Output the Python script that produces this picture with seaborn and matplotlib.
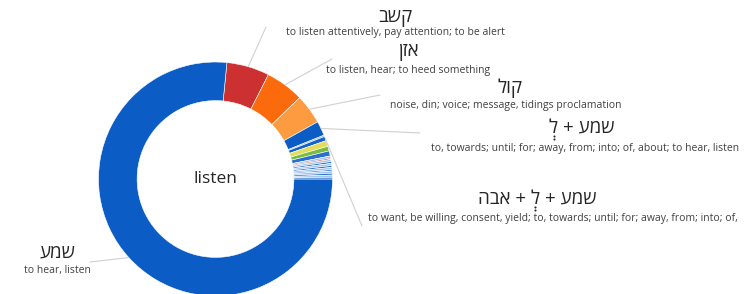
import unicodedata
import numpy as np
import matplotlib.pyplot as plt
import seaborn as sns
from matplotlib.lines import Line2D

# share of each rendering of "listen", clockwise from the red slice (percent)
shares = [5.9, 5.3, 4.1, 2.0, 0.2, 0.6, 0.8, 0.65, 0.7, 0.3, 0.17,
          0.3, 0.25, 0.3, 0.25, 0.3, 0.2, 0.3, 0.25, 0.3, 0.25, 76.4]

# labelled slices (Hebrew written in reading order, word by word)
terms = ["קשב", "אזן", "קול", "לְ + שמע", "אבה + לְ + שמע", "שמע"]
glosses = [
    "to listen attentively, pay attention; to be alert",
    "to listen, hear; to heed something",
    "noise, din; voice; message, tidings proclamation",
    "to, towards; until; for; away, from; into; of, about; to hear, listen",
    "to want, be willing, consent, yield; to, towards; until; for; away, from; into; of,",
    "to hear, listen",
]
term_slice = [0, 1, 2, 3, 5, 21]
center_word = "listen"

# styling
BLUE, LIGHT = "#0b5cc5", "#a6c6ee"
colors = ["#cc3030", "#fb6a0c", "#fd9b40", BLUE, "#8db4e2", "#1463ca",
          "#e3dc5c", "#79bd3e", "#2a6fcf", LIGHT, "#c0393b",
          LIGHT, "#2f74d0", LIGHT, "#2f74d0", LIGHT, "#3a7cd3", LIGHT,
          "#2f74d0", LIGHT, "#2f74d0", BLUE]

W, H = 752, 294
CX, CY, R = 215.5, 179, 117  # donut centre / radius in pixels

term_xy = [(395, 18), (408, 52), (510, 88), (582, 128), (537, 199), (57, 253)]
gloss_xy = [(395, 33), (408, 70), (506, 105), (585, 149), (368, 219), (57, 270)]
gloss_ha = ["center", "center", "center", "center", "left", "center"]
line_end = [(266, 27), (332, 59), (380, 95), (420, 133), (362, 226), (90, 262)]

SHEVA = "\u05b0"


def visual(s):
    # matplotlib has no bidi: flip the letters of each word, keep points on their letter
    words = []
    for word in s.split(" "):
        clusters = []
        for ch in word:
            if unicodedata.combining(ch) and clusters:
                clusters[-1] += ch
            else:
                clusters.append(ch)
        words.append("".join(reversed(clusters)))
    return " ".join(words)


sns.set_theme(style="white")
plt.rcParams["font.family"] = ["Open Sans", "DejaVu Sans"]

fig = plt.figure(figsize=(W / 100, H / 100), dpi=100)
ax = fig.add_axes([(CX - R) / W, (H - CY - R) / H, 2 * R / W, 2 * R / H])

wedges, _ = ax.pie(shares, colors=colors, startangle=84.4, counterclock=False,
                   radius=1, wedgeprops=dict(width=0.33, edgecolor="white", linewidth=0.4))
ax.set_xlim(-1, 1)
ax.set_ylim(-1, 1)
ax.set_aspect("equal")
ax.axis("off")

ax.text(0, 0, center_word, ha="center", va="center", fontsize=12.5, color="#262626")

renderer = fig.canvas.get_renderer()

for i, idx in enumerate(term_slice):
    w = wedges[idx]
    mid = np.deg2rad((w.theta1 + w.theta2) / 2)
    ex, ey = line_end[i]
    ax.annotate("", xy=(np.cos(mid), np.sin(mid)), xycoords="data",
                xytext=(ex / W, 1 - ey / H), textcoords="figure fraction",
                arrowprops=dict(arrowstyle="-", color="#d0d0d0", lw=0.8,
                                shrinkA=0, shrinkB=0))

    # the vowel point is drawn by hand: matplotlib does not stack combining marks
    label = visual(terms[i])
    plain = label.replace(SHEVA, "")
    tx, ty = term_xy[i]
    t = fig.text(tx / W, 1 - ty / H, plain, ha="center", va="center",
                 fontsize=13.5, color="#262626")
    if SHEVA in label:
        prop = t.get_fontproperties()
        upto = plain[:label.index(SHEVA)]
        w_all = renderer.get_text_width_height_descent(plain, prop, ismath=False)[0]
        w_upto = renderer.get_text_width_height_descent(upto, prop, ismath=False)[0]
        w_let = renderer.get_text_width_height_descent(upto[-1], prop, ismath=False)[0]
        sx = tx - w_all / 2 + w_upto - w_let / 2
        fig.add_artist(Line2D([sx / W, sx / W], [1 - (ty + 8) / H, 1 - (ty + 10.5) / H],
                              transform=fig.transFigure, ls="none", marker="o",
                              markersize=1.5, markeredgewidth=0, color="#262626"))

    gx, gy = gloss_xy[i]
    fig.text(gx / W, 1 - gy / H, glosses[i], ha=gloss_ha[i], va="center",
             fontsize=7.5, color="#404040")

fig.savefig("out.png", dpi=100)
